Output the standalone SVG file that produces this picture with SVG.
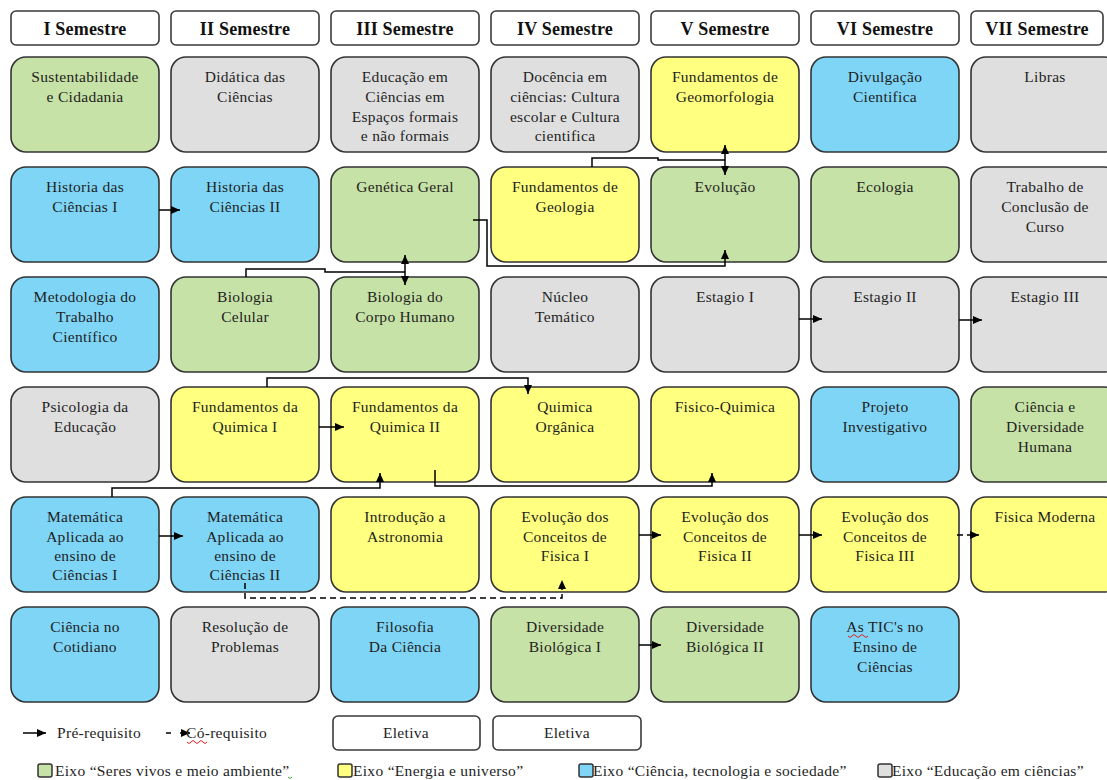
<svg xmlns="http://www.w3.org/2000/svg" width="1107" height="780" viewBox="0 0 1107 780">
<defs>
<style>
text{font-family:'Liberation Serif','Times New Roman',Times,Tinos,'Nimbus Roman','Nimbus Roman No9 L',FreeSerif,'DejaVu Serif','Noto Serif',Georgia,serif}
.hdr{fill:#fff;stroke:#3a3a3a;stroke-width:1.6}
.ht{font-weight:bold;font-size:18px;fill:#111;text-anchor:middle;letter-spacing:0.2px}
.n{stroke:#333;stroke-width:1.6}
.g{fill:#c7e2a6}.y{fill:#ffff80}.b{fill:#7fd5f6}.r{fill:#dfdfdf}
.t{font-size:15.5px;fill:#1e1e1e;text-anchor:middle;letter-spacing:0.3px}
.lt{font-size:15.5px;fill:#1e1e1e;letter-spacing:0.3px}
.c{fill:none;stroke:#000;stroke-width:1.5}
.d{stroke-dasharray:6,4}
</style>
<marker id="ah" markerWidth="10" markerHeight="8" refX="9" refY="4" orient="auto" markerUnits="userSpaceOnUse">
<path d="M0,0 L9,4 L0,8 Z" fill="#000"/>
</marker>
</defs>
<rect width="1107" height="780" fill="#fff"/>

<g id="headers">
<rect class="hdr" x="11" y="11" width="148" height="34" rx="5"/><text class="ht" x="85" y="35">I Semestre</text>
<rect class="hdr" x="171" y="11" width="148" height="34" rx="5"/><text class="ht" x="245" y="35">II Semestre</text>
<rect class="hdr" x="331" y="11" width="148" height="34" rx="5"/><text class="ht" x="405" y="35">III Semestre</text>
<rect class="hdr" x="491" y="11" width="148" height="34" rx="5"/><text class="ht" x="565" y="35">IV Semestre</text>
<rect class="hdr" x="651" y="11" width="148" height="34" rx="5"/><text class="ht" x="725" y="35">V Semestre</text>
<rect class="hdr" x="811" y="11" width="148" height="34" rx="5"/><text class="ht" x="885" y="35">VI Semestre</text>
<rect class="hdr" x="971" y="11" width="132" height="34" rx="5"/><text class="ht" x="1037" y="35">VII Semestre</text>
</g>

<!-- Column I -->
<g id="n-sustentabilidade"><rect class="n g" x="11" y="57" width="148" height="95" rx="15"/><text class="t" x="85" y="82">Sustentabilidade</text><text class="t" x="85" y="102">e Cidadania</text></g>
<g id="n-historia1"><rect class="n b" x="11" y="167" width="148" height="95" rx="15"/><text class="t" x="85" y="192">Historia das</text><text class="t" x="85" y="212">Ciências I</text></g>
<g id="n-metodologia"><rect class="n b" x="11" y="277" width="148" height="95" rx="15"/><text class="t" x="85" y="302">Metodologia do</text><text class="t" x="85" y="322">Trabalho</text><text class="t" x="85" y="342">Científico</text></g>
<g id="n-psicologia"><rect class="n r" x="11" y="387" width="148" height="95" rx="15"/><text class="t" x="85" y="412">Psicologia da</text><text class="t" x="85" y="432">Educação</text></g>
<g id="n-matematica1"><rect class="n b" x="11" y="497" width="148" height="95" rx="15"/><text class="t" x="85" y="522">Matemática</text><text class="t" x="85" y="542">Aplicada ao</text><text class="t" x="85" y="561">ensino de</text><text class="t" x="85" y="580">Ciências I</text></g>
<g id="n-cotidiano"><rect class="n b" x="11" y="607" width="148" height="95" rx="15"/><text class="t" x="85" y="632">Ciência no</text><text class="t" x="85" y="652">Cotidiano</text></g>

<!-- Column II -->
<g id="n-didatica"><rect class="n r" x="171" y="57" width="148" height="95" rx="15"/><text class="t" x="245" y="82">Didática das</text><text class="t" x="245" y="102">Ciências</text></g>
<g id="n-historia2"><rect class="n b" x="171" y="167" width="148" height="95" rx="15"/><text class="t" x="245" y="192">Historia das</text><text class="t" x="245" y="212">Ciências II</text></g>
<g id="n-biocelular"><rect class="n g" x="171" y="277" width="148" height="95" rx="15"/><text class="t" x="245" y="302">Biologia</text><text class="t" x="245" y="322">Celular</text></g>
<g id="n-quimica1"><rect class="n y" x="171" y="387" width="148" height="95" rx="15"/><text class="t" x="245" y="412">Fundamentos da</text><text class="t" x="245" y="432">Quimica I</text></g>
<g id="n-matematica2"><rect class="n b" x="171" y="497" width="148" height="95" rx="15"/><text class="t" x="245" y="522">Matemática</text><text class="t" x="245" y="542">Aplicada ao</text><text class="t" x="245" y="561">ensino de</text><text class="t" x="245" y="580">Ciências II</text></g>
<g id="n-resolucao"><rect class="n r" x="171" y="607" width="148" height="95" rx="15"/><text class="t" x="245" y="632">Resolução de</text><text class="t" x="245" y="652">Problemas</text></g>

<!-- Column III -->
<g id="n-educacao"><rect class="n r" x="331" y="57" width="148" height="95" rx="15"/><text class="t" x="405" y="82">Educação em</text><text class="t" x="405" y="102">Ciências em</text><text class="t" x="405" y="122">Espaços formais</text><text class="t" x="405" y="141">e não formais</text></g>
<g id="n-genetica"><rect class="n g" x="331" y="167" width="148" height="95" rx="15"/><text class="t" x="405" y="192">Genética Geral</text></g>
<g id="n-biocorpo"><rect class="n g" x="331" y="277" width="148" height="95" rx="15"/><text class="t" x="405" y="302">Biologia do</text><text class="t" x="405" y="322">Corpo Humano</text></g>
<g id="n-quimica2"><rect class="n y" x="331" y="387" width="148" height="95" rx="15"/><text class="t" x="405" y="412">Fundamentos da</text><text class="t" x="405" y="432">Quimica II</text></g>
<g id="n-astronomia"><rect class="n y" x="331" y="497" width="148" height="95" rx="15"/><text class="t" x="405" y="522">Introdução a</text><text class="t" x="405" y="542">Astronomia</text></g>
<g id="n-filosofia"><rect class="n b" x="331" y="607" width="148" height="95" rx="15"/><text class="t" x="405" y="632">Filosofia</text><text class="t" x="405" y="652">Da Ciência</text></g>

<!-- Column IV -->
<g id="n-docencia"><rect class="n r" x="491" y="57" width="148" height="95" rx="15"/><text class="t" x="565" y="82">Docência em</text><text class="t" x="565" y="102">ciências: Cultura</text><text class="t" x="565" y="122">escolar e Cultura</text><text class="t" x="565" y="141">cientifica</text></g>
<g id="n-geologia"><rect class="n y" x="491" y="167" width="148" height="95" rx="15"/><text class="t" x="565" y="192">Fundamentos de</text><text class="t" x="565" y="212">Geologia</text></g>
<g id="n-nucleo"><rect class="n r" x="491" y="277" width="148" height="95" rx="15"/><text class="t" x="565" y="302">Núcleo</text><text class="t" x="565" y="322">Temático</text></g>
<g id="n-organica"><rect class="n y" x="491" y="387" width="148" height="95" rx="15"/><text class="t" x="565" y="412">Quimica</text><text class="t" x="565" y="432">Orgânica</text></g>
<g id="n-fisica1"><rect class="n y" x="491" y="497" width="148" height="95" rx="15"/><text class="t" x="565" y="522">Evolução dos</text><text class="t" x="565" y="542">Conceitos de</text><text class="t" x="565" y="561">Fisica I</text></g>
<g id="n-diversidade1"><rect class="n g" x="491" y="607" width="148" height="95" rx="15"/><text class="t" x="565" y="632">Diversidade</text><text class="t" x="565" y="652">Biológica I</text></g>

<!-- Column V -->
<g id="n-geomorfologia"><rect class="n y" x="651" y="57" width="148" height="95" rx="15"/><text class="t" x="725" y="82">Fundamentos de</text><text class="t" x="725" y="102">Geomorfologia</text></g>
<g id="n-evolucao"><rect class="n g" x="651" y="167" width="148" height="95" rx="15"/><text class="t" x="725" y="192">Evolução</text></g>
<g id="n-estagio1"><rect class="n r" x="651" y="277" width="148" height="95" rx="15"/><text class="t" x="725" y="302">Estagio I</text></g>
<g id="n-fisicoquimica"><rect class="n y" x="651" y="387" width="148" height="95" rx="15"/><text class="t" x="725" y="412">Fisico-Quimica</text></g>
<g id="n-fisica2"><rect class="n y" x="651" y="497" width="148" height="95" rx="15"/><text class="t" x="725" y="522">Evolução dos</text><text class="t" x="725" y="542">Conceitos de</text><text class="t" x="725" y="561">Fisica II</text></g>
<g id="n-diversidade2"><rect class="n g" x="651" y="607" width="148" height="95" rx="15"/><text class="t" x="725" y="632">Diversidade</text><text class="t" x="725" y="652">Biológica II</text></g>

<!-- Column VI -->
<g id="n-divulgacao"><rect class="n b" x="811" y="57" width="148" height="95" rx="15"/><text class="t" x="885" y="82">Divulgação</text><text class="t" x="885" y="102">Cientifica</text></g>
<g id="n-ecologia"><rect class="n g" x="811" y="167" width="148" height="95" rx="15"/><text class="t" x="885" y="192">Ecologia</text></g>
<g id="n-estagio2"><rect class="n r" x="811" y="277" width="148" height="95" rx="15"/><text class="t" x="885" y="302">Estagio II</text></g>
<g id="n-projeto"><rect class="n b" x="811" y="387" width="148" height="95" rx="15"/><text class="t" x="885" y="412">Projeto</text><text class="t" x="885" y="432">Investigativo</text></g>
<g id="n-fisica3"><rect class="n y" x="811" y="497" width="148" height="95" rx="15"/><text class="t" x="885" y="522">Evolução dos</text><text class="t" x="885" y="542">Conceitos de</text><text class="t" x="885" y="561">Fisica III</text></g>
<g id="n-tics"><rect class="n b" x="811" y="607" width="148" height="95" rx="15"/><text class="t" x="885" y="632">As TIC's no</text><text class="t" x="885" y="652">Ensino de</text><text class="t" x="885" y="672">Ciências</text><path d="M848,636 q2,3 4,0 t4,0 t4,0 t4,0 t4,0" fill="none" stroke="#e02020" stroke-width="1"/></g>

<!-- Column VII -->
<g id="n-libras"><rect class="n r" x="971" y="57" width="148" height="95" rx="15"/><text class="t" x="1045" y="82">Libras</text></g>
<g id="n-tcc"><rect class="n r" x="971" y="167" width="148" height="95" rx="15"/><text class="t" x="1045" y="192">Trabalho de</text><text class="t" x="1045" y="212">Conclusão de</text><text class="t" x="1045" y="232">Curso</text></g>
<g id="n-estagio3"><rect class="n r" x="971" y="277" width="148" height="95" rx="15"/><text class="t" x="1045" y="302">Estagio III</text></g>
<g id="n-diversidadehumana"><rect class="n g" x="971" y="387" width="148" height="95" rx="15"/><text class="t" x="1045" y="412">Ciência e</text><text class="t" x="1045" y="432">Diversidade</text><text class="t" x="1045" y="452">Humana</text></g>
<g id="n-fisicamoderna"><rect class="n y" x="971" y="497" width="148" height="95" rx="15"/><text class="t" x="1045" y="522">Fisica Moderna</text></g>

<g id="connectors">
<path class="c" d="M159,210 H180" marker-end="url(#ah)"/>
<path class="c" d="M246,277 V269 H325 V272 H405"/>
<path class="c" d="M405,272 V255" marker-end="url(#ah)"/>
<path class="c" d="M405,272 V285" marker-end="url(#ah)"/>
<path class="c" d="M473,220 H487 V266 H725 V250" marker-end="url(#ah)"/>
<path class="c" d="M592,167 V158 H658 V160 H725"/>
<path class="c" d="M725,160 V145" marker-end="url(#ah)"/>
<path class="c" d="M725,160 V175" marker-end="url(#ah)"/>
<path class="c" d="M799,319 H822" marker-end="url(#ah)"/>
<path class="c" d="M959,320 H982" marker-end="url(#ah)"/>
<path class="c" d="M267,387 V378 H528 V394" marker-end="url(#ah)"/>
<path class="c" d="M319,427 H344" marker-end="url(#ah)"/>
<path class="c" d="M112,497 V488 H380 V473" marker-end="url(#ah)"/>
<path class="c" d="M435,470 V486 H712 V473" marker-end="url(#ah)"/>
<path class="c" d="M159,536 H183" marker-end="url(#ah)"/>
<path class="c d" d="M245,583 V598 H562 V580" marker-end="url(#ah)"/>
<path class="c" d="M639,535 H661" marker-end="url(#ah)"/>
<path class="c" d="M799,535 H822" marker-end="url(#ah)"/>
<path class="c d" d="M957,535 H979" marker-end="url(#ah)"/>
<path class="c" d="M639,645 H661" marker-end="url(#ah)"/>
</g>

<g id="legend">
<path class="c" d="M23,733 H46" marker-end="url(#ah)"/>
<text class="lt" x="57" y="738">Pré-requisito</text>
<path class="c" d="M166,733 H171"/>
<path class="c" d="M180,733 H190" marker-end="url(#ah)"/>
<text class="lt" x="186" y="738">Có-requisito</text>
<path d="M187,742 q2,3 4,0 t4,0 t4,0 t4,0 t4,0" fill="none" stroke="#e02020" stroke-width="1"/>
<g id="eletiva1"><rect class="hdr" x="333" y="716" width="147" height="34" rx="5"/><text class="t" x="406" y="738">Eletiva</text></g>
<g id="eletiva2"><rect class="hdr" x="493" y="716" width="148" height="34" rx="5"/><text class="t" x="567" y="738">Eletiva</text></g>
<rect x="38" y="764" width="14" height="13" rx="2" fill="#c7e2a6" stroke="#333" stroke-width="1.5"/>
<text class="lt" x="55" y="776">Eixo “Seres vivos e meio ambiente”</text>
<path d="M288,777 q2,3 4,0" fill="none" stroke="#3a3" stroke-width="1"/>
<rect x="338" y="764" width="14" height="13" rx="2" fill="#ffff80" stroke="#333" stroke-width="1.5"/>
<text class="lt" x="353" y="776">Eixo “Energia e universo”</text>
<rect x="579" y="764" width="14" height="13" rx="2" fill="#7fd5f6" stroke="#333" stroke-width="1.5"/>
<text class="lt" x="593" y="776">Eixo “Ciência, tecnologia e sociedade”</text>
<rect x="878" y="764" width="14" height="13" rx="2" fill="#dfdfdf" stroke="#333" stroke-width="1.5"/>
<text class="lt" x="892" y="776">Eixo “Educação em ciências”</text>
</g>
</svg>
